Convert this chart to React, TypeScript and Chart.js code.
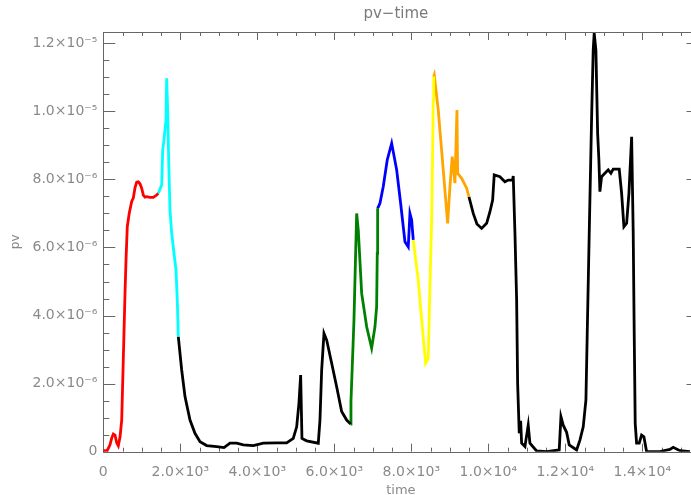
import React, { useEffect, useRef } from "react";
import { Chart, registerables } from "chart.js";

Chart.register(...registerables);

// time values and pv values (pv in units of 1e-6)
const redTime = [0, 70, 88, 174, 218, 260, 304, 348, 390, 434, 478, 519, 564, 590, 623, 675, 738, 779, 823, 867, 909, 953, 997, 1039, 1083, 1127, 1213, 1298, 1387, 1428];
const redPv = [0.03, 0.03, 0.0, 0.2, 0.4, 0.52, 0.49, 0.26, 0.17, 0.43, 0.93, 2.69, 4.66, 5.63, 6.61, 7.01, 7.35, 7.45, 7.75, 7.92, 7.93, 7.87, 7.74, 7.54, 7.48, 7.49, 7.47, 7.47, 7.54, 7.59];

const cyanTime = [1428, 1517, 1543, 1576, 1628, 1646, 1672, 1698, 1732, 1776, 1836, 1888, 1922, 1948];
const cyanPv = [7.59, 7.84, 8.86, 9.16, 9.75, 10.97, 10.04, 8.57, 7.1, 6.42, 5.83, 5.34, 4.45, 3.38];

const black1Time = [1948, 2036, 2122, 2252, 2381, 2512, 2685, 2945, 3135, 3291, 3464, 3636, 3896, 4155, 4503, 4763, 4934, 5023, 5082, 5126, 5160, 5282, 5584, 5628, 5672, 5732, 5802, 5932, 6061, 6191, 6321, 6425];
const black1Pv = [3.38, 2.4, 1.62, 0.93, 0.54, 0.29, 0.18, 0.15, 0.12, 0.25, 0.25, 0.2, 0.18, 0.25, 0.26, 0.26, 0.39, 0.73, 1.43, 2.25, 0.39, 0.32, 0.25, 0.93, 2.4, 3.48, 3.28, 2.6, 1.91, 1.18, 0.93, 0.81];

const greenTime = [6425, 6433, 6511, 6550, 6581, 6623, 6711, 6841, 6970, 7056, 7100, 7116, 7126];
const greenPv = [0.81, 1.47, 3.87, 5.63, 7.0, 6.51, 4.65, 3.67, 3.04, 3.67, 4.26, 5.83, 7.15];

const blueTime = [7126, 7186, 7272, 7375, 7490, 7620, 7723, 7835, 7921, 7965, 8009, 8051];
const bluePv = [7.15, 7.3, 7.79, 8.57, 9.06, 8.28, 7.3, 6.17, 6.02, 7.0, 6.81, 6.22];

const yellowTime = [8051, 8181, 8269, 8373, 8440, 8484, 8529, 8554, 8570, 8581];
const yellowPv = [6.22, 5.04, 3.87, 2.6, 2.74, 4.85, 6.81, 8.77, 10.33, 11.02];

const orangeTime = [8581, 8596, 8700, 8830, 8944, 9004, 9064, 9134, 9186, 9204, 9308, 9438, 9497];
const orangePv = [11.02, 11.07, 10.04, 8.28, 6.71, 7.79, 8.67, 7.89, 10.04, 8.18, 8.03, 7.74, 7.49];

const black2Time = [9497, 9609, 9705, 9827, 9957, 10043, 10113, 10154, 10302, 10432, 10518, 10632, 10648, 10692, 10736, 10762, 10804, 10840, 10866, 10952, 11037, 11081, 11255, 11515, 11842, 11887, 11946, 12034, 12102, 12294, 12380, 12466, 12536, 12570, 12622, 12684, 12725, 12751, 12795, 12840, 12873, 12899, 12943, 13029, 13115, 13185, 13245, 13401, 13463, 13523, 13593, 13653, 13723, 13764, 13790, 13816, 13852, 13920, 13982, 14042, 14112, 14458, 14717, 14803, 14977, 15237];
const black2Pv = [7.49, 7.0, 6.69, 6.56, 6.71, 7.05, 7.39, 8.13, 8.08, 7.93, 7.98, 7.98, 8.1, 6.43, 4.46, 2.01, 0.54, 0.91, 0.25, 0.15, 0.78, 0.25, 0.02, 0.0, 0.05, 1.03, 0.78, 0.57, 0.2, 0.05, 0.34, 0.73, 1.52, 3.49, 6.43, 9.84, 11.8, 12.3, 11.8, 9.35, 8.57, 7.64, 8.08, 8.18, 8.28, 8.18, 8.3, 8.3, 7.59, 6.61, 6.71, 7.59, 9.25, 6.43, 3.49, 0.83, 0.25, 0.25, 0.49, 0.44, 0.0, 0.0, 0.07, 0.13, 0.03, 0.0];

// axis ranges and tick steps
const X_MIN = 0;
const X_MAX = 15460;
const X_MINOR = 500;
const X_MAJOR = 2000;
const Y_MIN = 0;
const Y_MAX = 12.33;
const Y_MINOR = 0.5;
const Y_MAJOR = 2;

const segments = [
  { time: redTime, pv: redPv, color: "#ff0000" },
  { time: cyanTime, pv: cyanPv, color: "#00ffff" },
  { time: black1Time, pv: black1Pv, color: "#000000" },
  { time: greenTime, pv: greenPv, color: "#008000" },
  { time: blueTime, pv: bluePv, color: "#0000ff" },
  { time: yellowTime, pv: yellowPv, color: "#ffff00" },
  { time: orangeTime, pv: orangePv, color: "#ffa500" },
  { time: black2Time, pv: black2Pv, color: "#000000" },
];

const AXIS_COLOR = "#666666";
const LABEL_COLOR = "#8a8a8a";

const isMultiple = (v: number, step: number) => {
  const q = v / step;
  return Math.abs(q - Math.round(q)) < 1e-6;
};

const makeTicks = (min: number, max: number, step: number) => {
  const out: { value: number }[] = [];
  const n = Math.floor((max - min) / step + 1e-9);
  for (let i = 0; i <= n; i++) out.push({ value: Math.round((min + i * step) * 1000) / 1000 });
  return out;
};

const xLabel = (v: number) => {
  if (!isMultiple(v, X_MAJOR)) return "";
  if (v === 0) return "0";
  if (v < 10000) return (v / 1000).toFixed(1) + "×10³";
  return (v / 10000).toFixed(1) + "×10⁴";
};
const yLabel = (v: number) => {
  if (!isMultiple(v, Y_MAJOR)) return "";
  const r = Math.round(v * 1000) / 1000;
  if (r === 0) return "0";
  if (r < 10) return r.toFixed(1) + "×10⁻⁶";
  return (r / 10).toFixed(1) + "×10⁻⁵";
};

const framePlugin = {
  id: "idlFrame",
  beforeDatasetsDraw(chart: any) {
    const { ctx, chartArea } = chart;
    const { left, right, top, bottom } = chartArea;
    const xs = chart.scales.x;
    const ys = chart.scales.y;
    ctx.save();
    ctx.strokeStyle = AXIS_COLOR;
    ctx.lineWidth = 1;
    ctx.beginPath();
    ctx.rect(Math.round(left) + 0.5, Math.round(top) + 0.5, Math.round(right - left), Math.round(bottom - top));
    ctx.stroke();
    ctx.beginPath();
    xs.ticks.forEach((t: any) => {
      const px = Math.round(xs.getPixelForValue(t.value)) + 0.5;
      const len = isMultiple(t.value, X_MAJOR) ? 8 : 4;
      ctx.moveTo(px, bottom);
      ctx.lineTo(px, bottom - len);
      ctx.moveTo(px, top);
      ctx.lineTo(px, top + len);
    });
    ys.ticks.forEach((t: any) => {
      const py = Math.round(ys.getPixelForValue(t.value)) + 0.5;
      const len = isMultiple(t.value, Y_MAJOR) ? 12 : 6;
      ctx.moveTo(left, py);
      ctx.lineTo(left + len, py);
      ctx.moveTo(right, py);
      ctx.lineTo(right - len, py);
    });
    ctx.stroke();
    ctx.restore();
  },
  afterDraw(chart: any) {
    const { ctx, chartArea } = chart;
    ctx.save();
    ctx.fillStyle = "#7a7a7a";
    ctx.font = '15px "DejaVu Sans"';
    ctx.textAlign = "center";
    ctx.textBaseline = "middle";
    ctx.fillText("pv−time", (chartArea.left + chartArea.right) / 2 - 5, 14);
    ctx.restore();
  },
};

export default function App() {
  const canvasRef = useRef<HTMLCanvasElement | null>(null);

  useEffect(() => {
    if (!canvasRef.current) return;
    const datasets = segments.map((s) => ({
      data: s.time.map((t, i) => ({ x: t, y: s.pv[i] })),
      borderColor: s.color,
      backgroundColor: s.color,
      borderWidth: 2.8,
      pointRadius: 0,
      tension: 0,
      fill: false,
    }));
    const chart = new Chart(canvasRef.current, {
      type: "line",
      data: { datasets },
      plugins: [framePlugin],
      options: {
        animation: false,
        responsive: false,
        layout: { padding: { top: 32, right: 6.5, left: 0, bottom: 0 } },
        plugins: { legend: { display: false }, tooltip: { enabled: false }, title: { display: false } },
        scales: {
          x: {
            type: "linear",
            min: X_MIN,
            max: X_MAX,
            grid: { display: false, drawTicks: false },
            border: { display: false },
            afterBuildTicks: (scale: any) => {
              scale.ticks = makeTicks(X_MIN, X_MAX, X_MINOR);
            },
            afterFit: (scale: any) => {
              scale.height = 43.3;
            },
            ticks: {
              autoSkip: false,
              maxRotation: 0,
              minRotation: 0,
              padding: 12,
              color: LABEL_COLOR,
              font: { family: "DejaVu Sans", size: 14 },
              callback: (v: any) => xLabel(Number(v)),
            },
            title: {
              display: true,
              text: "time",
              color: LABEL_COLOR,
              font: { family: "DejaVu Sans", size: 13, lineHeight: 0.75 },
              padding: { top: 0, bottom: 0 },
            },
          },
          y: {
            type: "linear",
            min: Y_MIN,
            max: Y_MAX,
            grid: { display: false, drawTicks: false },
            border: { display: false },
            afterBuildTicks: (scale: any) => {
              scale.ticks = makeTicks(Y_MIN, Y_MAX, Y_MINOR);
            },
            afterFit: (scale: any) => {
              scale.width = 103.3;
            },
            ticks: {
              autoSkip: false,
              padding: 6,
              color: LABEL_COLOR,
              font: { family: "DejaVu Sans", size: 14 },
              callback: (v: any) => yLabel(Number(v)),
            },
            title: {
              display: true,
              text: "pv",
              color: LABEL_COLOR,
              font: { family: "DejaVu Sans", size: 12 },
              padding: { top: 9, bottom: 0 },
            },
          },
        },
      },
    });
    return () => chart.destroy();
  }, []);

  return (
    <div
      style={{
        position: "absolute",
        left: 0,
        top: 0,
        width: 691,
        height: 495,
        overflow: "hidden",
        background: "#ffffff",
      }}
    >
      <canvas ref={canvasRef} width={705} height={495} style={{ display: "block", width: 705, height: 495 }} />
    </div>
  );
}
